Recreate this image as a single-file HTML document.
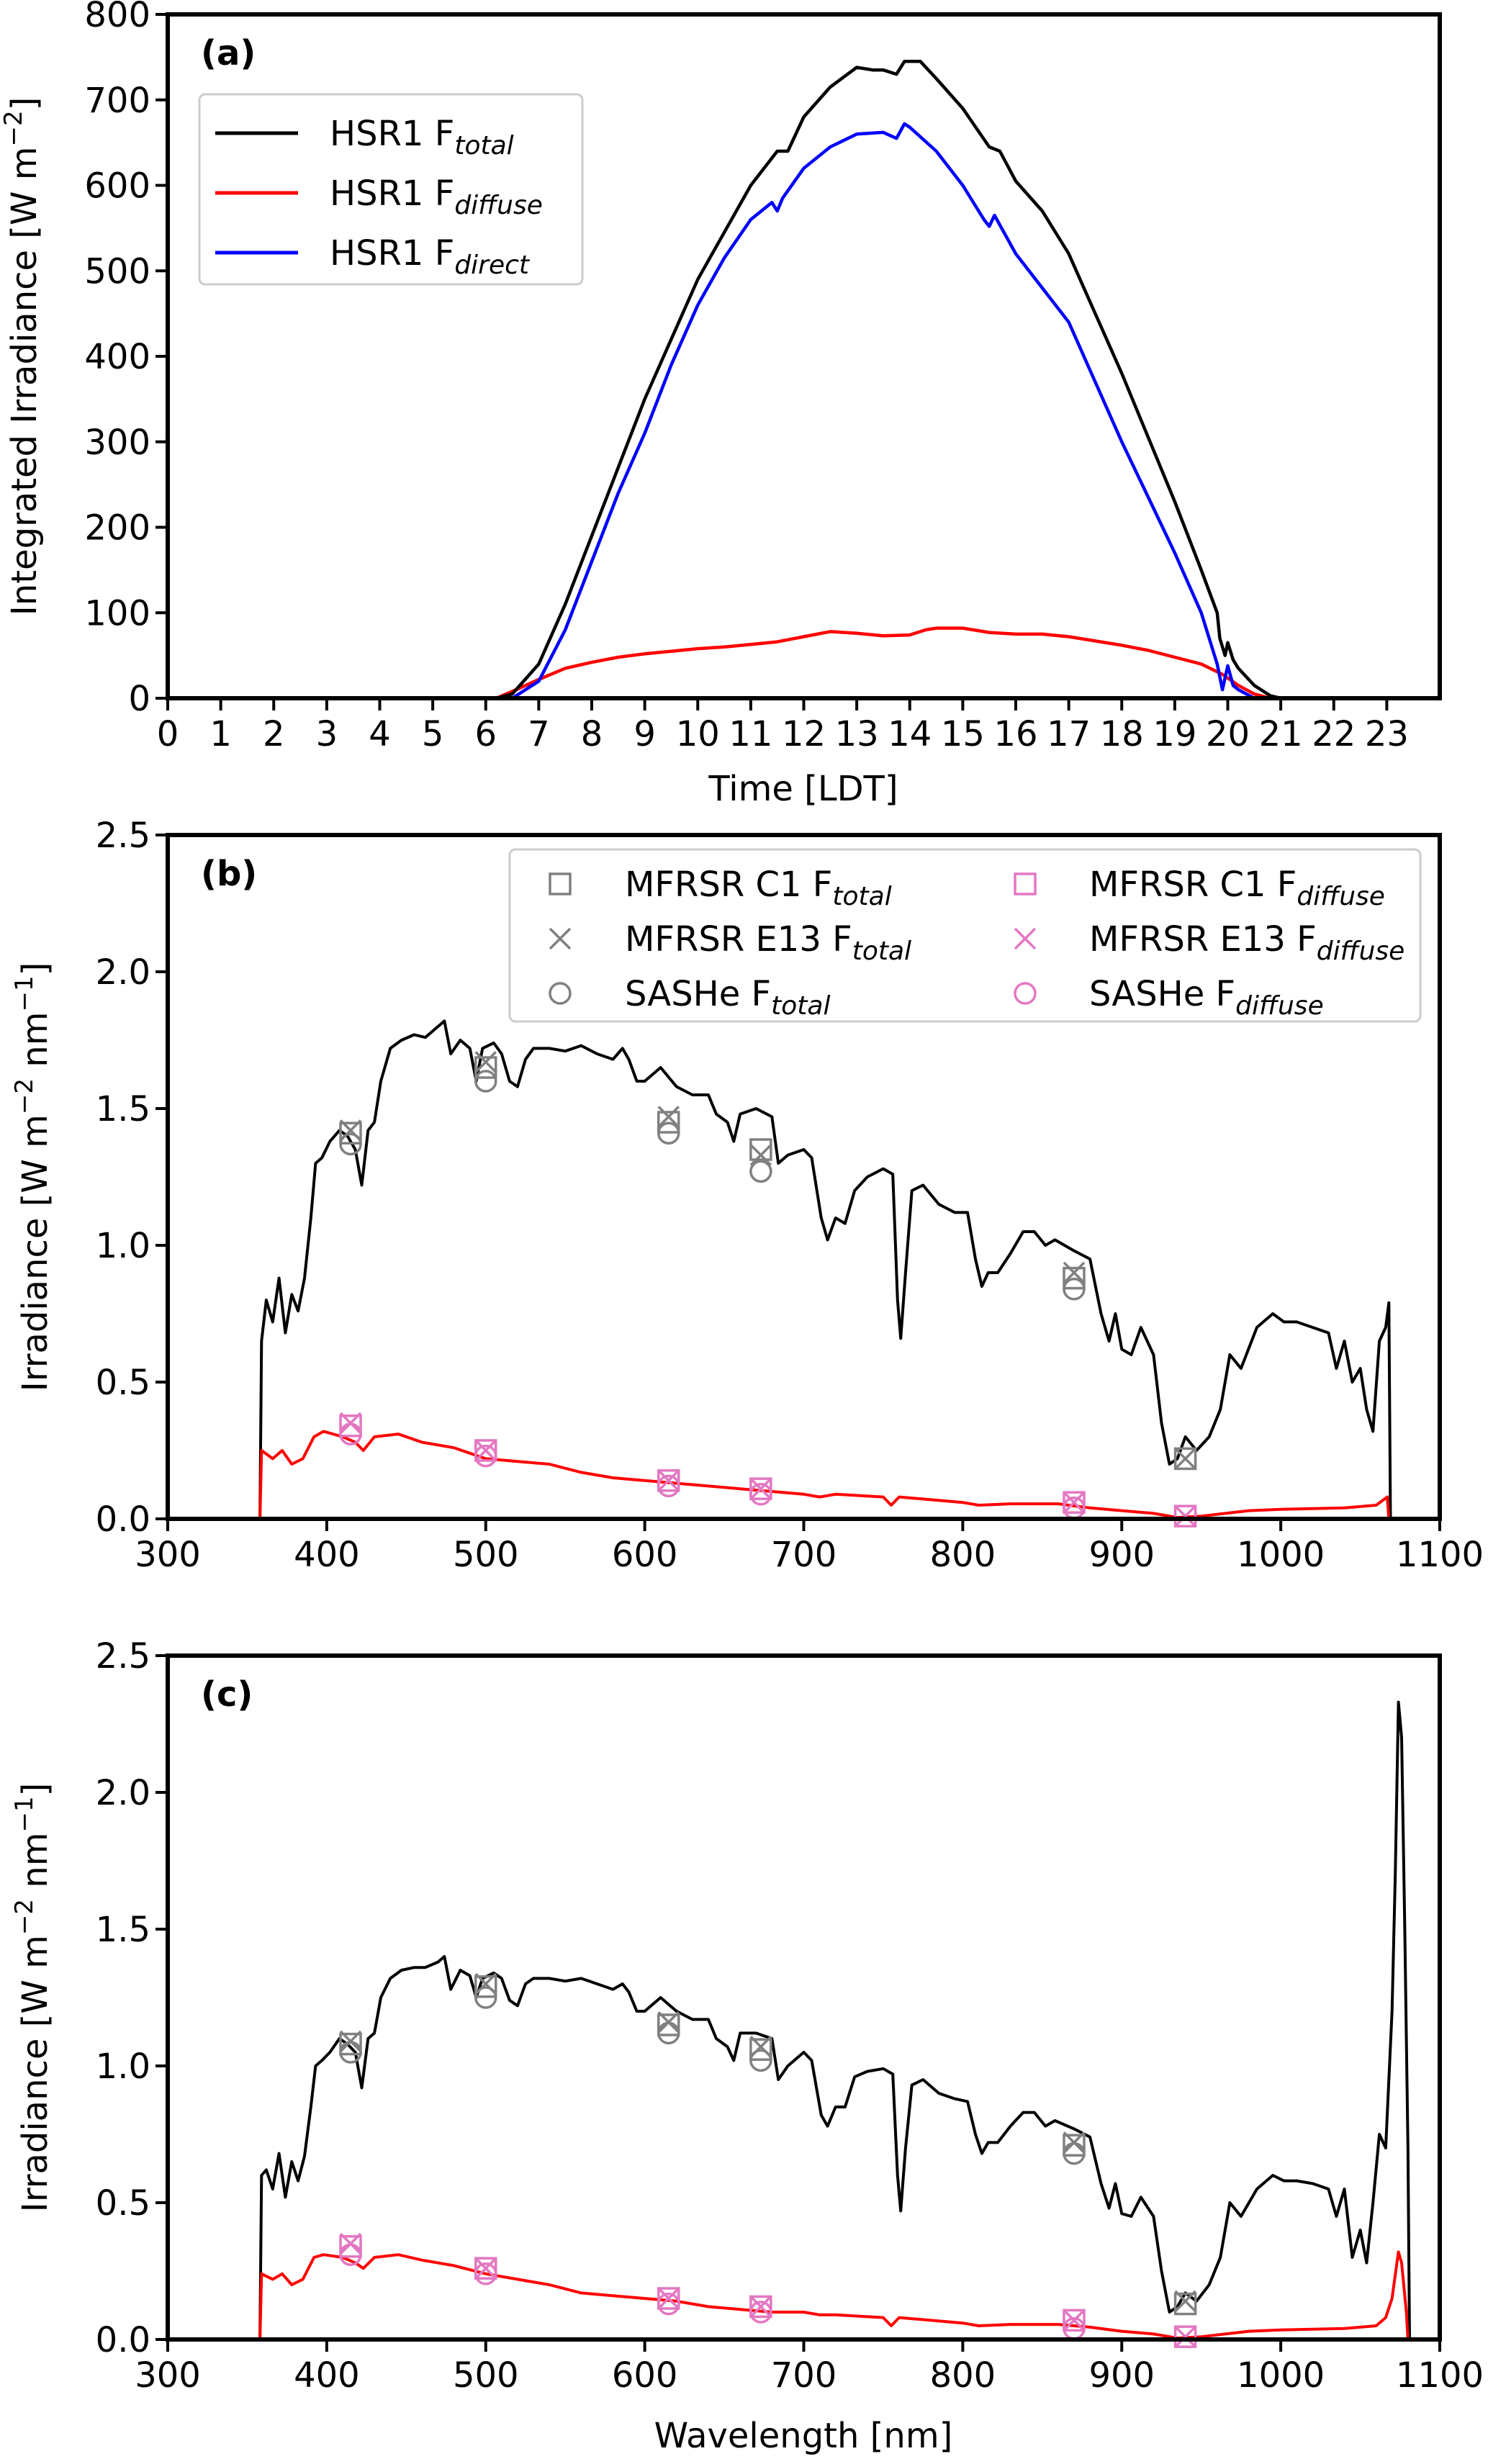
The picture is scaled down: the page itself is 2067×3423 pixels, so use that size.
<!DOCTYPE html>
<html><head><meta charset="utf-8"><style>
html,body{margin:0;padding:0;background:#fff;}
svg text{font-family:"DejaVu Sans","Liberation Sans",sans-serif;}
</style></head><body>
<svg id="fig" xmlns="http://www.w3.org/2000/svg" width="2067" height="3418" viewBox="0 0 2067 3418"></svg>
<script>
// ---- Panel (a) data ----
const tTotal=[6.2,6.5,7,7.5,8,8.5,9,9.5,10,10.5,11,11.5,11.7,12,12.5,13,13.3,13.5,13.75,13.9,14,14.2,14.5,15,15.5,15.7,16,16.5,17,17.5,18,18.5,19,19.5,19.8,19.85,19.95,20,20.1,20.2,20.5,20.8,21];
const vTotal=[0,5,40,110,190,270,350,420,490,545,600,640,640,680,715,738,735,735,730,745,745,745,725,690,645,640,605,570,520,450,380,305,230,150,100,70,50,65,45,35,15,3,0];
const tDirect=[6.5,7,7.5,8,8.5,9,9.5,10,10.5,11,11.4,11.5,11.6,12,12.5,13,13.5,13.75,13.9,14,14.5,15,15.4,15.5,15.6,16,16.5,17,17.5,18,18.5,19,19.5,19.8,19.9,20,20.1,20.2,20.5];
const vDirect=[0,20,80,160,240,310,390,460,515,560,580,570,585,620,645,660,662,655,672,668,640,600,560,552,565,520,480,440,370,300,235,170,100,40,10,38,15,10,0];
const tDiffuse=[6.2,6.5,7,7.5,8,8.5,9,9.5,10,10.5,11,11.5,12,12.5,13,13.5,14,14.3,14.5,15,15.5,16,16.5,17,17.5,18,18.5,19,19.5,19.9,20.2,20.5,20.8];
const vDiffuse=[0,8,22,35,42,48,52,55,58,60,63,66,72,78,76,73,74,80,82,82,77,75,75,72,67,62,56,48,40,28,15,5,0];
const aYTicks=[0,100,200,300,400,500,600,700,800];
const aXTicks=[0,1,2,3,4,5,6,7,8,9,10,11,12,13,14,15,16,17,18,19,20,21,22,23];

// ---- Panel (b) data ----
const wlB=[358,359,362,366,370,374,378,382,386,390,393,397,402,408,413,418,422,426,430,434,440,447,455,462,470,474,478,484,490,494,498,505,510,515,520,525,530,540,550,560,570,580,586,590,595,600,610,620,630,640,645,652,656,660,670,680,684,690,700,705,711,715,720,726,732,740,750,756,759,761,764,768,775,785,795,803,808,812,816,822,830,838,845,852,858,870,880,887,892,896,900,906,912,920,925,930,935,940,947,955,962,968,975,985,995,1002,1010,1020,1030,1035,1040,1045,1050,1054,1058,1062,1066,1068,1069];
const totB=[0,0.65,0.8,0.72,0.88,0.68,0.82,0.76,0.88,1.1,1.3,1.32,1.38,1.42,1.40,1.35,1.22,1.42,1.45,1.6,1.72,1.75,1.77,1.76,1.8,1.82,1.7,1.75,1.72,1.6,1.72,1.74,1.7,1.6,1.58,1.68,1.72,1.72,1.71,1.73,1.7,1.68,1.72,1.68,1.6,1.6,1.65,1.58,1.55,1.55,1.48,1.45,1.38,1.48,1.5,1.47,1.3,1.33,1.35,1.32,1.1,1.02,1.1,1.08,1.2,1.25,1.28,1.26,0.8,0.66,0.9,1.2,1.22,1.15,1.12,1.12,0.95,0.85,0.9,0.9,0.97,1.05,1.05,1.0,1.02,0.98,0.95,0.75,0.65,0.75,0.62,0.6,0.7,0.6,0.35,0.2,0.22,0.3,0.25,0.3,0.4,0.6,0.55,0.7,0.75,0.72,0.72,0.7,0.68,0.55,0.65,0.5,0.55,0.4,0.32,0.65,0.7,0.79,0];
const wlDB=[358,359,366,372,378,385,392,398,410,418,423,430,445,460,480,500,520,540,560,580,600,620,640,660,680,700,710,720,750,755,760,780,800,810,830,860,880,900,920,935,950,980,1000,1040,1060,1067,1068];
const difB=[0,0.25,0.22,0.25,0.2,0.22,0.3,0.32,0.3,0.28,0.25,0.3,0.31,0.28,0.26,0.22,0.21,0.2,0.17,0.15,0.14,0.13,0.12,0.11,0.1,0.09,0.08,0.09,0.08,0.05,0.08,0.07,0.06,0.05,0.055,0.055,0.04,0.03,0.02,0.005,0.01,0.03,0.035,0.04,0.05,0.08,0];
const mWl=[415,500,615,673,870,940];
const c1TotB=[1.41,1.65,1.45,1.35,0.88,0.22];
const e13TotB=[1.42,1.67,1.47,1.33,0.9,0.22];
const saTotB=[1.37,1.6,1.41,1.27,0.84];
const c1DifB=[0.34,0.25,0.14,0.11,0.06,0.01];
const e13DifB=[0.35,0.25,0.14,0.11,0.06,0.01];
const saDifB=[0.31,0.23,0.12,0.09,0.04];

// ---- Panel (c) data ----
const wlC=[358,359,362,366,370,374,378,382,386,390,393,397,402,408,413,418,422,426,430,434,440,447,455,462,470,474,478,484,490,494,498,505,510,515,520,525,530,540,550,560,570,580,586,590,595,600,610,620,630,640,645,652,656,660,670,680,684,690,700,705,711,715,720,726,732,740,750,756,759,761,764,768,775,785,795,803,808,812,816,822,830,838,845,852,858,870,880,887,892,896,900,906,912,920,925,930,935,940,947,955,962,968,975,985,995,1002,1010,1020,1030,1035,1040,1045,1050,1054,1058,1062,1066,1070,1072,1074,1076,1078,1080,1081];
const totC=[0,0.6,0.62,0.55,0.68,0.52,0.65,0.58,0.67,0.85,1.0,1.02,1.05,1.1,1.08,1.05,0.92,1.1,1.12,1.25,1.32,1.35,1.36,1.36,1.38,1.4,1.28,1.35,1.33,1.25,1.32,1.34,1.32,1.24,1.22,1.3,1.32,1.32,1.31,1.32,1.3,1.28,1.3,1.27,1.2,1.2,1.25,1.2,1.17,1.17,1.1,1.07,1.02,1.12,1.12,1.1,0.95,1.0,1.05,1.02,0.82,0.78,0.85,0.85,0.96,0.98,0.99,0.97,0.6,0.47,0.7,0.93,0.95,0.9,0.88,0.87,0.75,0.68,0.72,0.72,0.78,0.83,0.83,0.78,0.8,0.77,0.74,0.57,0.48,0.57,0.46,0.45,0.52,0.45,0.25,0.1,0.12,0.17,0.14,0.2,0.3,0.5,0.45,0.55,0.6,0.58,0.58,0.57,0.55,0.45,0.55,0.3,0.4,0.28,0.5,0.75,0.7,1.2,1.7,2.33,2.2,1.5,0.7,0];
const wlDC=[358,359,366,372,378,385,392,398,410,418,423,430,445,460,480,500,520,540,560,580,600,620,640,660,680,700,710,720,750,755,760,780,800,810,830,860,880,900,920,935,950,980,1000,1040,1060,1066,1070,1074,1076,1079,1080];
const difC=[0,0.24,0.22,0.24,0.2,0.22,0.3,0.31,0.3,0.28,0.26,0.3,0.31,0.29,0.27,0.24,0.22,0.2,0.17,0.16,0.15,0.14,0.12,0.11,0.1,0.1,0.09,0.09,0.08,0.05,0.08,0.07,0.06,0.05,0.055,0.055,0.045,0.03,0.02,0.005,0.01,0.03,0.035,0.04,0.05,0.08,0.15,0.32,0.28,0.1,0];
const c1TotC=[1.08,1.29,1.15,1.06,0.71,0.13];
const e13TotC=[1.09,1.3,1.16,1.07,0.72,0.14];
const saTotC=[1.05,1.25,1.12,1.02,0.68];
const c1DifC=[0.34,0.26,0.15,0.12,0.07,0.01];
const e13DifC=[0.35,0.26,0.15,0.12,0.07,0.01];
const saDifC=[0.31,0.24,0.13,0.1,0.04];
const specYTicks=[0,0.5,1.0,1.5,2.0,2.5];
const specXTicks=[300,400,500,600,700,800,900,1000,1100];

const NS="http://www.w3.org/2000/svg";
const svg=document.getElementById('fig');
function el(tag,attrs,parent){const e=document.createElementNS(NS,tag);for(const k in attrs)e.setAttribute(k,attrs[k]);(parent||svg).appendChild(e);return e;}
const L=233,R=2000;
function scale(d0,d1,r0,r1){return v=>r0+(v-d0)*(r1-r0)/(d1-d0);}
function line(xs,ys,sx,sy,color,name,g,w){
  let d='';for(let i=0;i<xs.length;i++){d+=(i?'L':'M')+sx(xs[i]).toFixed(1)+','+sy(ys[i]).toFixed(1);}
  const p=el('path',{d:d,fill:'none',stroke:color,'stroke-width':w||4.5,'stroke-linejoin':'round'},g);
  
  
}
function axes(top,bot,sx,sy,xt,yt,xfmt,yfmt,g){
  xt.forEach(v=>{const x=sx(v);el('line',{x1:x,x2:x,y1:bot,y2:bot+17,stroke:'#000','stroke-width':4},g);
    const t=el('text',{x:x,y:bot+66,'font-size':48,'text-anchor':'middle'},g);t.textContent=xfmt(v);
    });
  yt.forEach(v=>{const y=sy(v);el('line',{x1:L-17,x2:L,y1:y,y2:y,stroke:'#000','stroke-width':4},g);
    const t=el('text',{x:L-24,y:y+17,'font-size':48,'text-anchor':'end'},g);t.textContent=yfmt(v);
    });
  const r=el('rect',{x:L,y:top,width:R-L,height:bot-top,fill:'none',stroke:'#000','stroke-width':6},g);
  
}
function marker(type,x,y,color,g){
  const s=14;
  if(type==='sq')el('rect',{x:x-s,y:y-s,width:2*s,height:2*s,fill:'none',stroke:color,'stroke-width':3.5},g);
  else if(type==='x'){el('path',{d:`M${x-s},${y-s}L${x+s},${y+s}M${x-s},${y+s}L${x+s},${y-s}`,stroke:color,'stroke-width':3.5,fill:'none'},g);}
  else el('circle',{cx:x,cy:y,r:s,fill:'none',stroke:color,'stroke-width':3.5},g);
}
function markers(type,xs,ys,sx,sy,color,name,g){
  const mg=el('g',{},g);
  for(let i=0;i<ys.length;i++)marker(type,sx(xs[i]),sy(ys[i]),color,mg);
}
function txt(x,y,s,attrs,name,g){const t=el('text',Object.assign({x:x,y:y,'font-size':48},attrs||{}),g);t.innerHTML=s;return t;}

// Panel a
(function(){
  const g=el('g',{});
  const top=20,bot=970;
  const sx=scale(0,24,L,R),sy=scale(0,800,bot,top);
  line(tDiffuse,vDiffuse,sx,sy,'#ff0000','diffuse-line',g);
  line(tDirect,vDirect,sx,sy,'#0000ff','direct-line',g);
  line(tTotal,vTotal,sx,sy,'#000000','total-line',g);
  axes(top,bot,sx,sy,aXTicks,aYTicks,v=>v,v=>v,g);
  txt(279,90,'(a)',{'font-weight':'bold'},'panel-label',g);
  txt(1116,1112,'Time [LDT]',{'text-anchor':'middle'},'x-axis-title',g);
  txt(0,0,'Integrated Irradiance [W m<tspan font-size="34" dy="-20">−2</tspan><tspan dy="20">]</tspan>',{'text-anchor':'middle',transform:'translate(50,495) rotate(-90)'},'y-axis-title',g);
  const lg=el('g',{},g);
  el('rect',{x:277,y:131,width:532,height:264,rx:8,fill:'#fff',stroke:'#ccc','stroke-width':3},lg);
  [['#000','total'],['#ff0000','diffuse'],['#0000ff','direct']].forEach((e,i)=>{
    const y=185+i*83;
    el('line',{x1:299,x2:414,y1:y,y2:y,stroke:e[0],'stroke-width':5},lg);
    txt(458,y+17,'HSR1 F<tspan font-style="italic" font-size="36" dy="12">'+e[1]+'</tspan>',{},'legend-entry',lg);
  });
})();

function specPanel(top,bot,label,wl,tot,wlD,dif,c1T,e13T,saT,c1D,e13D,saD,xtitle,withLegend,name){
  const g=el('g',{});
  const sx=scale(300,1100,L,R),sy=scale(0,2.5,bot,top);
  line(wl,tot,sx,sy,'#000','total-spectrum',g,4);
  line(wlD,dif,sx,sy,'#ff0000','diffuse-spectrum',g,4);
  const gr='#808080',pk='#e377c2';
  markers('sq',mWl,c1T,sx,sy,gr,'mfrsr-c1-total',g);
  markers('x',mWl,e13T,sx,sy,gr,'mfrsr-e13-total',g);
  markers('o',mWl,saT,sx,sy,gr,'sashe-total',g);
  markers('sq',mWl,c1D,sx,sy,pk,'mfrsr-c1-diffuse',g);
  markers('x',mWl,e13D,sx,sy,pk,'mfrsr-e13-diffuse',g);
  markers('o',mWl,saD,sx,sy,pk,'sashe-diffuse',g);
  axes(top,bot,sx,sy,specXTicks,specYTicks,v=>v,v=>v.toFixed(1),g);
  txt(279,top+70,label,{'font-weight':'bold'},'panel-label',g);
  txt(0,0,'Irradiance [W m<tspan font-size="34" dy="-20">−2</tspan><tspan dy="20"> nm</tspan><tspan font-size="34" dy="-20">−1</tspan><tspan dy="20">]</tspan>',{'text-anchor':'middle',transform:`translate(65,${(top+bot)/2}) rotate(-90)`},'y-axis-title',g);
  if(xtitle)txt(1116,3400,xtitle,{'text-anchor':'middle'},'x-axis-title',g);
  if(withLegend){
    const lg=el('g',{},g);
    el('rect',{x:708,y:1180,width:1265,height:239,rx:8,fill:'#fff',stroke:'#ccc','stroke-width':3},lg);
    const rows=[['sq','MFRSR C1 F'],['x','MFRSR E13 F'],['o','SASHe F']];
    rows.forEach((r,i)=>{const y=1228+i*76;
      marker(r[0],778,y,gr,lg);marker(r[0],1424,y,pk,lg);
      txt(868,y+17,r[1]+'<tspan font-style="italic" font-size="36" dy="12">total</tspan>',{},'legend-entry',lg);
      txt(1513,y+17,r[1]+'<tspan font-style="italic" font-size="36" dy="12">diffuse</tspan>',{},'legend-entry',lg);
    });
  }
}
specPanel(1160,2110,'(b)',wlB,totB,wlDB,difB,c1TotB,e13TotB,saTotB,c1DifB,e13DifB,saDifB,null,true,'panel-b');
specPanel(2300,3250,'(c)',wlC,totC,wlDC,difC,c1TotC,e13TotC,saTotC,c1DifC,e13DifC,saDifC,'Wavelength [nm]',false,'panel-c');
</script>
</body></html>
